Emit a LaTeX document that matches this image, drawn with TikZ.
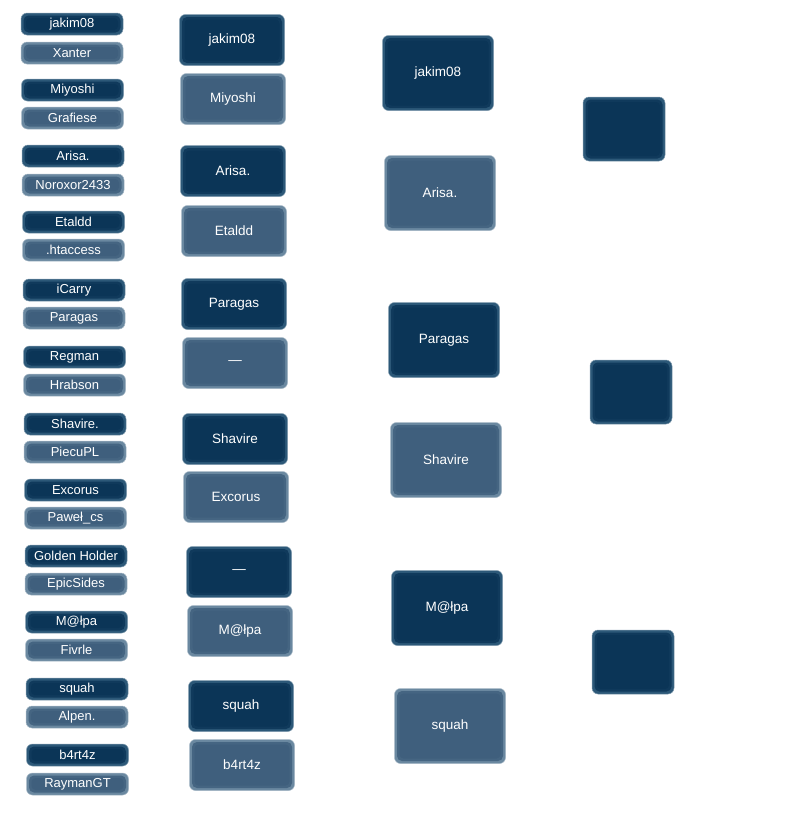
\documentclass[tikz,border=0pt]{standalone}
\usepackage{fontspec}
\setmainfont{Liberation Sans}
\definecolor{dkin}{HTML}{0B3557}
\definecolor{dkout}{HTML}{2C5878}
\definecolor{ltin}{HTML}{3F5F7D}
\definecolor{ltout}{HTML}{6A88A0}
\newcommand{\mybox}[7]{%
 % name, cx, cy, w, h, kind(dk/lt), text
 \fill[#6out,rounded corners=6pt,draw=#6out!60!white,line width=0.5pt] ({#2-#4/2},{#3-#5/2}) rectangle ({#2+#4/2},{#3+#5/2});
 \fill[#6in!85!#6out,rounded corners=5pt] ({#2-#4/2+2.5},{#3-#5/2+2.5}) rectangle ({#2+#4/2-2.5},{#3+#5/2-2.5});
 \fill[#6in,rounded corners=4pt] ({#2-#4/2+5},{#3-#5/2+5}) rectangle ({#2+#4/2-5},{#3+#5/2-5});
 \node[txt] (#1) at (#2,#3) {#7};}
\begin{document}
\begin{tikzpicture}[x=1pt,y=-1pt,txt/.style={text=white,inner sep=0pt}]
\useasboundingbox (0,0) rectangle (800,828);
\begin{scope}[every node/.style={font=\fontsize{13}{15}\selectfont}]
\mybox{a1}{72}{24}{102}{22}{dk}{jakim08}
\mybox{a2}{72}{53}{102}{22}{lt}{Xanter}
\mybox{a3}{72.5}{90}{102}{22}{dk}{Miyoshi}
\mybox{a4}{72.5}{118}{102}{22}{lt}{Grafiese}
\mybox{a5}{73}{156}{102}{22}{dk}{Arisa.}
\mybox{a6}{73}{185}{102}{22}{lt}{Noroxor2433}
\mybox{a7}{73.5}{222}{102}{22}{dk}{Etaldd}
\mybox{a8}{73.5}{250}{102}{22}{lt}{.htaccess}
\mybox{a9}{74}{290}{102}{22}{dk}{iCarry}
\mybox{a10}{74}{318}{102}{22}{lt}{Paragas}
\mybox{a11}{74.5}{357}{102}{22}{dk}{Regman}
\mybox{a12}{74.5}{385}{102}{22}{lt}{Hrabson}
\mybox{a13}{75}{424}{102}{22}{dk}{Shavire.}
\mybox{a14}{75}{452}{102}{22}{lt}{PiecuPL}
\mybox{a15}{75.5}{490}{102}{22}{dk}{Excorus}
\mybox{a16}{75.5}{518}{102}{22}{lt}{Paweł\_cs}
\mybox{a17}{76}{556}{102}{22}{dk}{Golden Holder}
\mybox{a18}{76}{584}{102}{22}{lt}{EpicSides}
\mybox{a19}{76.5}{622}{102}{22}{dk}{M@łpa}
\mybox{a20}{76.5}{650}{102}{22}{lt}{Fivrle}
\mybox{a21}{77}{689}{102}{22}{dk}{squah}
\mybox{a22}{77}{717}{102}{22}{lt}{Alpen.}
\mybox{a23}{77.5}{755}{102}{22}{dk}{b4rt4z}
\mybox{a24}{77.5}{784}{102}{22}{lt}{RaymanGT}
\end{scope}
\begin{scope}[every node/.style={font=\fontsize{13.5}{15}\selectfont}]
\mybox{b1}{232}{40}{105}{51}{dk}{jakim08}
\mybox{b2}{233}{99}{105}{51}{lt}{Miyoshi}
\mybox{b3}{233}{171}{105}{51}{dk}{Arisa.}
\mybox{b4}{234}{231}{105}{51}{lt}{Etaldd}
\mybox{b5}{234}{304}{105}{51}{dk}{Paragas}
\mybox{b6}{235}{363}{105}{51}{lt}{---}
\mybox{b7}{235}{439}{105}{51}{dk}{Shavire}
\mybox{b8}{236}{497}{105}{51}{lt}{Excorus}
\mybox{b9}{239}{572}{105}{51}{dk}{---}
\mybox{b10}{240}{631}{105}{51}{lt}{M@łpa}
\mybox{b11}{241}{706}{105}{51}{dk}{squah}
\mybox{b12}{242}{765}{105}{51}{lt}{b4rt4z}
\mybox{c1}{438}{73}{111}{75}{dk}{jakim08}
\mybox{c2}{440}{193}{111}{75}{lt}{Arisa.}
\mybox{c3}{444}{340}{111}{75}{dk}{Paragas}
\mybox{c4}{446}{460}{111}{75}{lt}{Shavire}
\mybox{c5}{447}{608}{111}{75}{dk}{M@łpa}
\mybox{c6}{450}{726}{111}{75}{lt}{squah}
\end{scope}
\mybox{d1}{624}{129}{82}{64}{dk}{}
\mybox{d2}{631}{392}{82}{64}{dk}{}
\mybox{d3}{633}{662}{82}{64}{dk}{}
\end{tikzpicture}
\end{document}
